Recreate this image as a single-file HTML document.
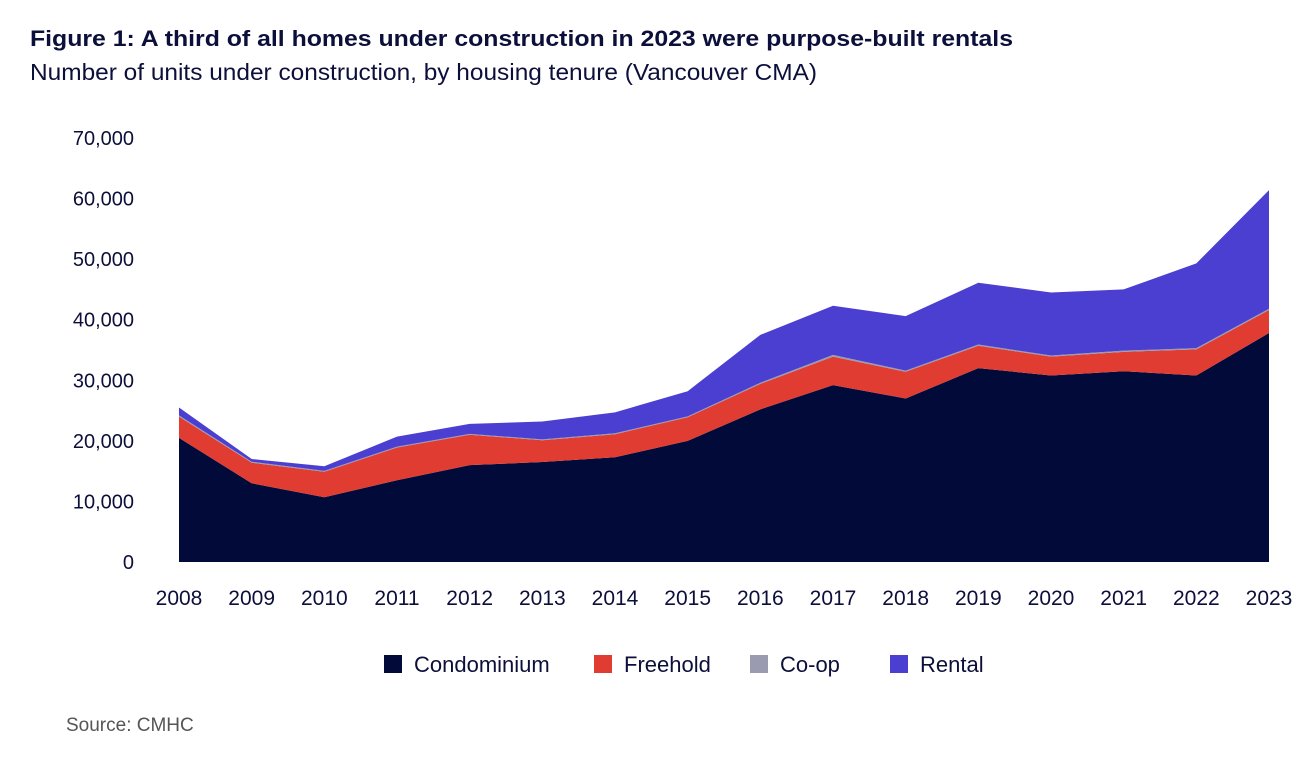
<!DOCTYPE html>
<html><head><meta charset="utf-8"><style>
body{margin:0;background:#fff;width:1308px;height:762px;overflow:hidden;font-family:"Liberation Sans",sans-serif;color:#0b0f3a}
</style></head><body>
<svg width="1308" height="762" style="position:absolute;left:0;top:0">
<text x="30" y="46" font-size="22" font-weight="bold" fill="#0b0f3a" textLength="983" lengthAdjust="spacingAndGlyphs">Figure 1: A third of all homes under construction in 2023 were purpose-built rentals</text>
<text x="30" y="80" font-size="23" fill="#0b0f3a" textLength="787" lengthAdjust="spacingAndGlyphs">Number of units under construction, by housing tenure (Vancouver CMA)</text>
<g id="yaxis"></g><g id="areas"></g><g id="xaxis"></g><g id="legend"></g>
<text x="66" y="731" font-size="19" fill="#555">Source: CMHC</text>
</svg>
<script>
const years=[2008,2009,2010,2011,2012,2013,2014,2015,2016,2017,2018,2019,2020,2021,2022,2023];
const condo=[20500,13000,10700,13500,16000,16500,17300,20000,25200,29200,27000,32000,30800,31500,30800,37800];
const freehold=[3500,3400,4200,5400,5000,3600,3800,3900,4200,4700,4400,3700,3100,3200,4300,3800];
const coop=[200,150,150,150,150,150,150,150,200,300,200,200,200,200,200,200];
const rental=[1300,450,750,1650,1650,2950,3450,4150,7900,8100,9000,10200,10400,10100,14000,19600];
const yTicks=[0,10000,20000,30000,40000,50000,60000,70000];
const series=[["Condominium",condo,"#020a3a"],["Freehold",freehold,"#e03c31"],["Co-op",coop,"#9a9bb0"],["Rental",rental,"#4a3fd0"]];
const NS="http://www.w3.org/2000/svg";
const x=i=>179+i*(1269-179)/(years.length-1);
const y=v=>562-v*(562-138)/70000;
function mk(t,a,p){const e=document.createElementNS(NS,t);for(const k in a)e.setAttribute(k,a[k]);p.appendChild(e);return e;}
const ya=document.getElementById('yaxis');
yTicks.forEach(v=>{const t=mk('text',{x:134,y:y(v)+7,'font-size':20,'text-anchor':'end',fill:'#0b0f3a'},ya);t.textContent=v.toLocaleString('en-US');

});
const xa=document.getElementById('xaxis');
years.forEach((yr,i)=>{const t=mk('text',{x:x(i),y:605,'font-size':21,'text-anchor':'middle',fill:'#0b0f3a'},xa);t.textContent=yr;

});
const ar=document.getElementById('areas');
let base=years.map(()=>0);
series.forEach(([name,vals,col])=>{const top=base.map((b,i)=>b+vals[i]);
let d=top.map((v,i)=>(i?'L':'M')+x(i)+','+y(v)).join('');
for(let i=years.length-1;i>=0;i--)d+='L'+x(i)+','+y(base[i]);
const p=mk('path',{d:d+'Z',fill:col},ar);


base=top;});
const lg=document.getElementById('legend');
const lx=[384,594,750,890];
series.forEach(([name,vals,col],i)=>{const g=mk('g',{},lg);


mk('rect',{x:lx[i],y:655,width:18,height:18,fill:col},g);
const t=mk('text',{x:lx[i]+30,y:672,'font-size':22,fill:'#0b0f3a'},g);t.textContent=name;});
</script>
</body></html>
